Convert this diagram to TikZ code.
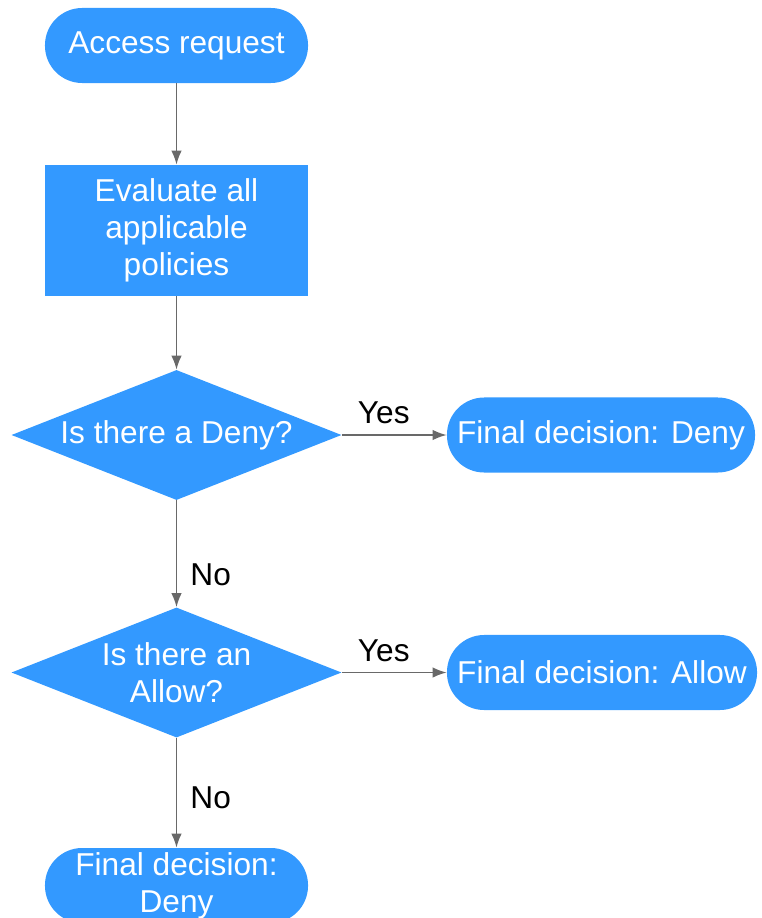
\documentclass[tikz,border=0pt]{standalone}
\usepackage{fontspec}
\setmainfont{Liberation Sans}
\usetikzlibrary{shapes.geometric,arrows.meta}
\definecolor{flowblue}{RGB}{51,153,255}
\definecolor{flowgray}{RGB}{105,105,105}

\begin{document}
\begin{tikzpicture}[x=0.025cm, y=-0.025cm,
		font=\fontsize{22.5}{26.5}\selectfont,
		pill/.style={fill=flowblue, text=white, rounded corners=0.93cm, minimum height=1.875cm, inner sep=0pt, align=center},
		box/.style={fill=flowblue, text=white, minimum width=6.575cm, minimum height=3.275cm, inner sep=0pt, align=center},
		decision/.style={diamond, aspect=2.54, fill=flowblue, text=white, minimum width=8.25cm, minimum height=3.25cm, inner sep=0pt, align=center},
		link/.style={draw=flowgray, line width=1.2pt, -{Latex[length=10pt,width=7.5pt]}},
		lbl/.style={text=black}]
				\useasboundingbox (0,0) rectangle (761,918);
				
				\node[pill, minimum width=6.575cm] (req) at (176.5,45.5) {Access request};
				\node[box] (eval) at (176.5,230.5) {Evaluate all\\applicable\\policies};
				
				\node[decision] (isdeny) at (176.5,435) {Is there a Deny?};
				\node[pill, minimum width=7.7cm] (denyfinal) at (601,435) {Final decision: Deny};
				
				\node[decision] (isallow) at (176.5,672.5) {Is there an\\Allow?};
				\node[pill, minimum width=7.75cm] (allowfinal) at (602,672.5) {Final decision: Allow};
				
				\node[pill, minimum width=6.575cm] (denylast) at (176.5,885.5) {Final decision:\\Deny};
				
				\draw[link] (req) -- (eval);
				\draw[link] (eval) -- (isdeny);
				\draw[link] (isdeny) -- (denyfinal) node[lbl, pos=0.4, above=4pt]{Yes};
				\draw[link] (isdeny) -- (isallow) node[lbl, pos=0.7, right=6pt]{No};
				\draw[link] (isallow) -- (allowfinal) node[lbl, pos=0.4, above=4pt]{Yes};
				\draw[link] (isallow) -- (denylast) node[lbl, pos=0.55, right=6pt]{No};
\end{tikzpicture}
\end{document}
